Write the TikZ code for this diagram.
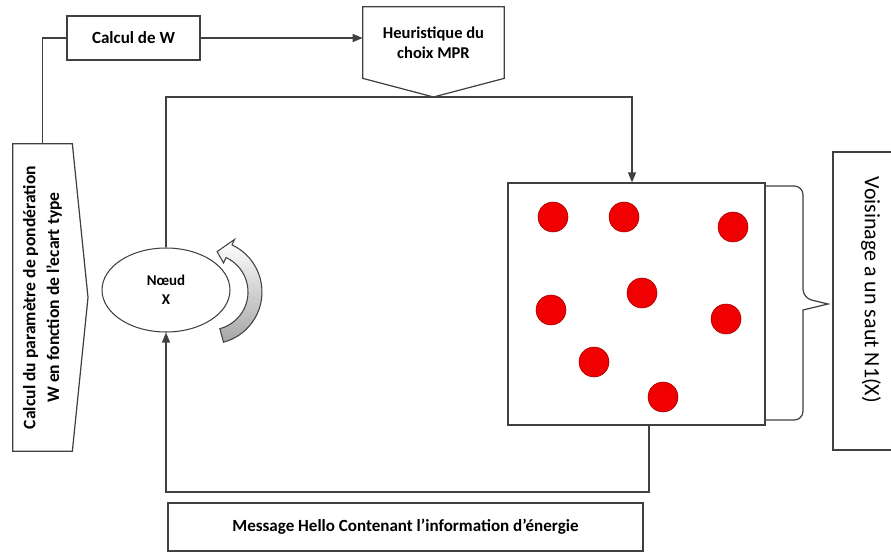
\documentclass[tikz,border=0pt]{standalone}
\usepackage{fontspec}
\setmainfont{Carlito}
\usetikzlibrary{arrows.meta,shapes.geometric}
\definecolor{dotred}{HTML}{F00000}
\definecolor{linegray}{HTML}{404040}

\begin{document}
\begin{tikzpicture}[
  x=0.02cm, y=-0.02cm,
  box/.style={draw=linegray, line width=0.7pt, rectangle, inner sep=0pt, font=\fontsize{9.7}{11.5}\selectfont\bfseries, align=center},
  ghost/.style={rectangle, inner sep=0pt, font=\fontsize{9.4}{11.5}\selectfont\bfseries, align=center},
  conn/.style={draw=linegray, line width=0.7pt},
  arr/.style={conn, -{Triangle[length=2mm,width=1.6mm]}},
]
  \useasboundingbox (0,0) rectangle (891,553);
  \clip (0,0) rectangle (891,553);

  % Boxes
  \node[box, minimum width=2.66cm, minimum height=0.88cm] (calcw) at (133.5,38) {Calcul de W};
  \node[ghost, minimum width=2.82cm, minimum height=1.42cm] (heur) at (433.5,42.5) {Heuristique du\\choix MPR};
  \coordinate (heurtip) at (433.5,97);
  \draw[conn] (heur.north west) -- (heur.north east) -- (heur.south east) -- (heurtip) -- (heur.south west) -- cycle;

  \node[ghost, minimum width=1.18cm, minimum height=6.14cm, font=\fontsize{10}{13.5}\selectfont\bfseries] (calcp) at (42.5,297.5)
    {\rotatebox{90}{\begin{tabular}{@{}c@{}}Calcul du paramètre de pondération\\W en fonction de l’ecart type\end{tabular}}};
  \coordinate (calcptip) at (88,297.5);
  \draw[conn] (calcp.north west) -- (calcp.north east) -- (calcptip) -- (calcp.south east) -- (calcp.south west) -- cycle;

  \node[draw=linegray, line width=0.6pt, ellipse, minimum width=2.56cm, minimum height=1.68cm, inner sep=0pt,
        font=\fontsize{8.5}{11}\selectfont\bfseries, align=center] (noeud) at (166,290) {Nœud\\X};

  % Voisinage
  \node[draw=linegray, line width=0.7pt, minimum width=5.14cm, minimum height=4.84cm, inner sep=0pt] (grp) at (636.5,304) {};
  \foreach \p in {(553,217),(624,217),(733,227),(642,293),(551,310),(726,319),(594,362),(663,397)}
    \fill[dotred, draw=red!60!black, line width=0.3pt] \p circle[radius=15];
  \draw[conn] (765,186) [rounded corners=5pt] -- (803,186) -- (803,298) [sharp corners] -- (828,304) -- (803,310) [rounded corners=5pt] -- (803,420) -- (765,420);
  \node[draw=linegray, line width=0.7pt, minimum width=1.52cm, minimum height=5.96cm, inner sep=0pt,
        font=\fontsize{12.5}{15}\selectfont] (vois) at (871,301) {\rotatebox{-90}{Voisinage a un saut N1(X)\hspace{0.45cm}}};

  \node[box, minimum width=9.5cm, minimum height=0.96cm] (msg) at (405.5,527) {Message Hello Contenant l’information d’énergie};

  % Self loop
  \draw[draw=linegray, line width=0.6pt, top color=white, bottom color=black!35, shift={(210,292)}]
    (75:52) arc[start angle=75, end angle=-65, radius=52] -- (-65:58) -- (-80:41) -- (-65:32) -- (-65:38)
    arc[start angle=-65, end angle=75, radius=38] -- cycle;

  % Connectors
  \draw[arr] (calcw.east) -- (calcw.east -| heur.west);
  \draw[conn] (calcp.north) |- (calcw.west);
  \draw[conn] (heurtip) -| (noeud.north);
  \draw[arr] (heurtip) -| ([xshift=-0.09cm]grp.north);
  \coordinate (retour) at (0,492);
  \draw[arr] ([xshift=0.25cm]grp.south) |- (retour -| noeud.south) -- (noeud.south);
\end{tikzpicture}
\end{document}
